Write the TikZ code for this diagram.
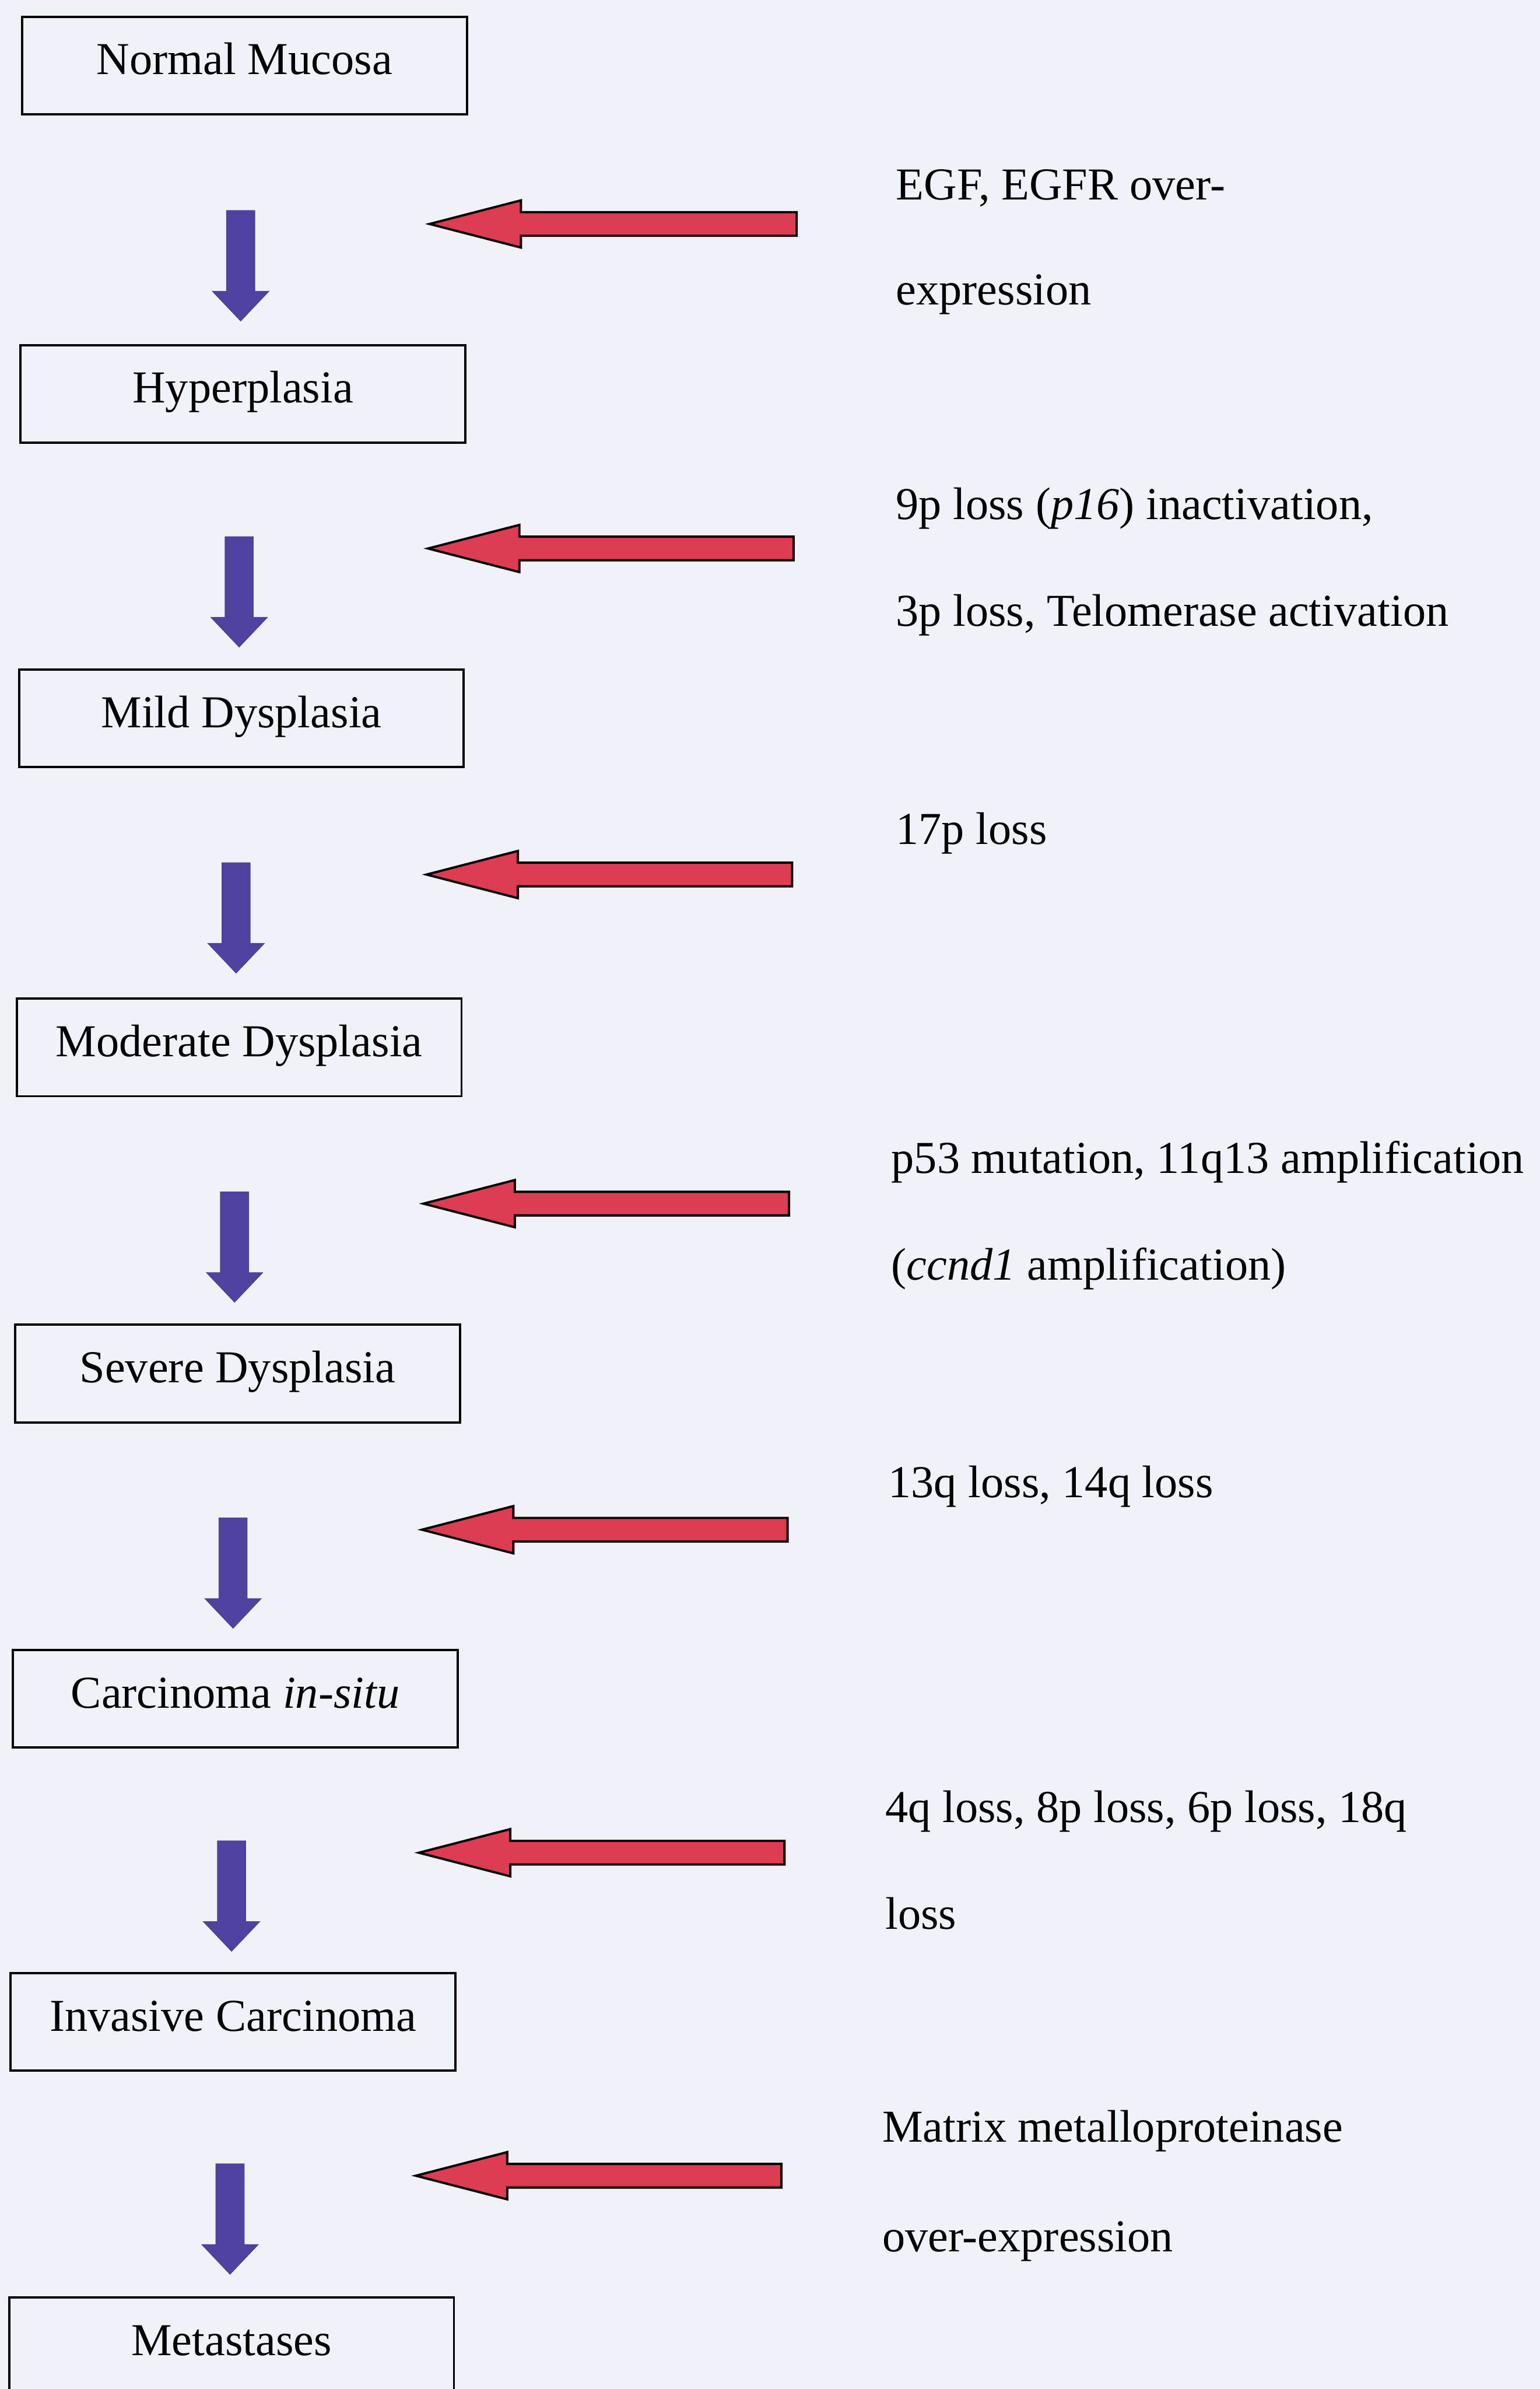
\documentclass[tikz,border=0pt]{standalone}
\usepackage{fontspec}
\setmainfont{Liberation Serif}
\definecolor{bgc}{RGB}{240,242,250}
\definecolor{bluearr}{RGB}{78,66,160}
\definecolor{redarr}{RGB}{222,60,82}
\newcommand\dnarrow[2]{%
  \fill[downarrow, shift={(#1,#2)}] (-9.5,0) -- (9.5,0) -- (9.5,53) -- (19,53) -- (0,73) -- (-19,53) -- (-9.5,53) -- cycle;}
\newcommand\lfarrow[3]{%
  \draw[leftarrow, shift={(#1,#2)}] (0,0) -- (60,-15.5) -- (60,-7.75) -- ({#3-#1},-7.75) -- ({#3-#1},7.75) -- (60,7.75) -- (60,15.5) -- cycle;}
\begin{document}
\begin{tikzpicture}[x=1pt,y=-1pt,
  stage/.style={draw=black, line width=1.5pt, minimum width=292pt, minimum height=64pt, inner sep=0pt, text height=20pt, text depth=8pt, font=\fontsize{30}{36}\selectfont},
  note/.style={anchor=base west, inner sep=0pt, font=\fontsize{30}{36}\selectfont},
  downarrow/.style={fill=bluearr},
  leftarrow/.style={fill=redarr, draw=black, line width=1.5pt, line join=miter}]
\fill[bgc] (0,0) rectangle (1011,1568);
\useasboundingbox (0,0) rectangle (1011,1568);
\clip (0,0) rectangle (1011,1568);
% stages
\node[stage] (s1) at (160.5,43) {Normal Mucosa};
\node[stage] (s2) at (159.5,258.5) {Hyperplasia};
\node[stage] (s3) at (158.5,471.5) {Mild Dysplasia};
\node[stage] (s4) at (157,687.5) {Moderate Dysplasia};
\node[stage] (s5) at (156,901.5) {Severe Dysplasia};
\node[stage] (s6) at (154.5,1115) {Carcinoma \textit{in-situ}};
\node[stage] (s7) at (153,1327) {Invasive Carcinoma};
\node[stage] (s8) at (152,1540) {Metastases};
% progression arrows
\dnarrow{158}{138}
\dnarrow{157}{352}
\dnarrow{155}{566}
\dnarrow{154}{782}
\dnarrow{153}{996}
\dnarrow{152}{1208}
\dnarrow{151}{1420}
% event arrows
\lfarrow{282}{147}{523}
\lfarrow{281}{360}{521}
\lfarrow{280}{574}{520}
\lfarrow{278}{790}{518}
\lfarrow{277}{1004}{517}
\lfarrow{275}{1216}{515}
\lfarrow{273}{1428}{513}
% notes
\node[note] (t1a) at (588,131) {EGF, EGFR over-};
\node[note] (t1b) at (588,200) {expression};
\node[note] (t2a) at (588,341) {9p loss (\textit{p16}) inactivation,};
\node[note] (t2b) at (588,411) {3p loss, Telomerase activation};
\node[note] (t3) at (588,554) {17p loss};
\node[note] (t4a) at (585,770) {p53 mutation, 11q13 amplification};
\node[note] (t4b) at (585,840) {(\textit{ccnd1} amplification)};
\node[note] (t5) at (583,983) {13q loss, 14q loss};
\node[note] (t6a) at (581,1196) {4q loss, 8p loss, 6p loss, 18q};
\node[note] (t6b) at (581,1266) {loss};
\node[note] (t7a) at (579,1406) {Matrix metalloproteinase};
\node[note] (t7b) at (579,1478) {over-expression};
\end{tikzpicture}
\end{document}
